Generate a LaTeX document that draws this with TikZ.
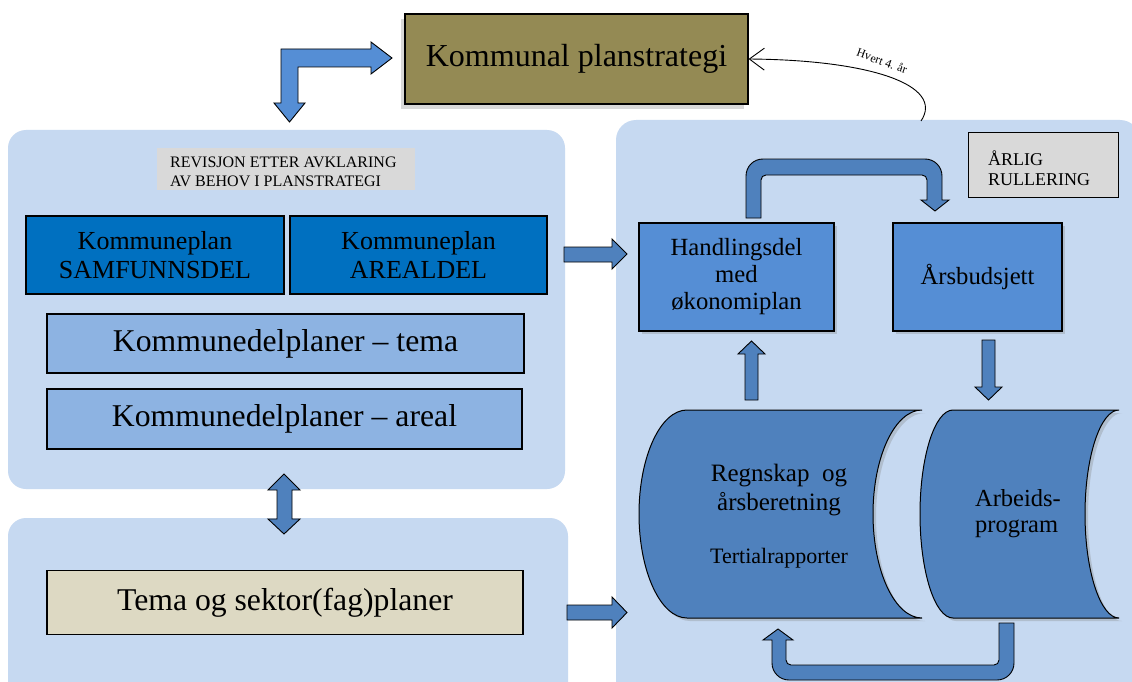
\documentclass[tikz,border=0pt]{standalone}
\usepackage{fontspec}
\setmainfont{Liberation Serif}
\usetikzlibrary{shadows,arrows.meta,calc}
\definecolor{panelblue}{HTML}{C6D9F1}
\definecolor{olivebox}{HTML}{948A54}
\definecolor{darkblue}{HTML}{0070C0}
\definecolor{midblue}{HTML}{8DB3E2}
\definecolor{beige}{HTML}{DDD9C3}
\definecolor{boxblue}{HTML}{558ED5}
\definecolor{cylblue}{HTML}{4F81BD}
\definecolor{lightgray}{HTML}{D9D9D9}
\tikzset{
  box/.style={draw=black, line width=1.2pt, inner sep=0pt, align=center},
  shade3/.style={drop shadow={shadow xshift=3pt, shadow yshift=-3pt, opacity=0.3}},
  blockarrow/.style={fill=cylblue, draw=black, line width=0.9pt, line join=miter}
}
\begin{document}
\begin{tikzpicture}[x=1pt,y=-1pt]
\useasboundingbox (0,0) rectangle (1132,682);
\fill[white] (0,0) rectangle (1132,682);

% background panels
\fill[panelblue, rounded corners=18pt] (8,130) rectangle (565,489);
\fill[panelblue, rounded corners=18pt] (8,518) rectangle (568,720);
\fill[panelblue, rounded corners=20pt] (616,120) rectangle (1140,720);

% top box
\node[box, fill=olivebox, minimum width=343pt, minimum height=90pt,
      font=\fontsize{32}{36}\selectfont,
      drop shadow={shadow xshift=-4pt, shadow yshift=-5pt, opacity=0.3}]
      (ks) at (576.5,59) {Kommunal planstrategi};

% L arrow
\path[blockarrow, fill=boxblue] (281,49) -- (371,49) -- (371,42) -- (392,58) -- (371,74) -- (371,67)
  -- (298,67) -- (298,103) -- (305,103) -- (289.5,122) -- (274,103) -- (281,103) -- cycle;

% curved arrow from right panel
\coordinate (rtop) at (921,121);
\draw[line width=0.9pt, -{Straight Barb[length=15pt,width=22pt]}]
  (rtop) .. controls (945,85) and (870,60) .. (ks.east);
\node[font=\fontsize{12}{14}\selectfont, rotate=-20, inner sep=0pt] (hvert) at (882,61) {Hvert 4. år};

% left upper panel content
\node[fill=lightgray, minimum width=258pt, minimum height=42pt, inner sep=0pt] (revbox) at (286,169) {};
\node[anchor=west, align=left, inner sep=0pt, font=\fontsize{16}{19}\selectfont] (rev) at (170,172)
  {REVISJON ETTER AVKLARING\\AV BEHOV I PLANSTRATEGI};

\node[box, fill=darkblue, minimum width=258pt, minimum height=78pt, font=\fontsize{26}{29}\selectfont]
  (samf) at (155,255) {Kommuneplan\\SAMFUNNSDEL};
\node[box, fill=darkblue, minimum width=257pt, minimum height=78pt, font=\fontsize{26}{29}\selectfont]
  (areal) at (418.5,255) {Kommuneplan\\AREALDEL};
\node[box, fill=midblue, minimum width=477pt, minimum height=59pt, font=\fontsize{31.7}{34}\selectfont]
  (ktema) at (285.5,343.5) {Kommunedelplaner -- tema};
\node[box, fill=midblue, minimum width=475pt, minimum height=60pt, font=\fontsize{31.7}{34}\selectfont]
  (kareal) at (284.5,419) {Kommunedelplaner -- areal};

% double arrow
\path[blockarrow] (284,474) -- (300,490) -- (292,490) -- (292,519) -- (300,519) -- (284,534)
  -- (268,519) -- (277,519) -- (277,490) -- (268,490) -- cycle;

% lower panel
\node[box, fill=beige, minimum width=476pt, minimum height=64pt, font=\fontsize{31.7}{34}\selectfont]
  (tema) at (285,602.5) {Tema og sektor(fag)planer};

% right arrows into right panel
\path[blockarrow] (564,247) -- (612,247) -- (612,239) -- (627,254) -- (612,269) -- (612,262) -- (564,262) -- cycle;
\path[blockarrow] (567,605) -- (612,605) -- (612,597) -- (627,612.5) -- (612,628) -- (612,620) -- (567,620) -- cycle;

% right panel content
\node[box, line width=1pt, fill=lightgray, minimum width=150pt, minimum height=64pt] (arlig) at (1043,165) {};
\node[anchor=west, align=left, inner sep=0pt, font=\fontsize{18}{20}\selectfont] (arligtxt) at (988,168)
  {ÅRLIG\\RULLERING};

\node[box, fill=boxblue, minimum width=195pt, minimum height=108pt, font=\fontsize{24.7}{27}\selectfont, shade3]
  (hand) at (736.5,277) {Handlingsdel\\med\\økonomiplan};
\node[box, fill=boxblue, minimum width=169pt, minimum height=108pt, font=\fontsize{24.7}{27}\selectfont, shade3]
  (budsj) at (977.5,277) {Årsbudsjett};

% U arrow top (Handlingsdel -> Arsbudsjett)
\path[blockarrow] (746,218) -- (746,176) .. controls (746,166.6) and (753.4,159) .. (763,159) -- (925,159)
  .. controls (934.4,159) and (942,166.6) .. (942,176) -- (942,200) -- (949,200) -- (935,211) -- (921,200)
  -- (927,200) -- (927,180) .. controls (927,177.2) and (924.8,175) .. (922,175) -- (766,175)
  .. controls (763.2,175) and (761,177.2) .. (761,180) -- (761,218) -- cycle;

% cylinders
\path[fill=cylblue, draw=black, line width=1pt, shade3]
  (687,410) -- (922,410) .. controls (895,410) and (873,456.6) .. (873,514)
  .. controls (873,571.4) and (895,618) .. (922,618) -- (687,618)
  .. controls (660.5,618) and (639,571.4) .. (639,514)
  .. controls (639,456.6) and (660.5,410) .. (687,410) -- cycle;
\path[fill=cylblue, draw=black, line width=1pt, shade3]
  (953,410) -- (1119,410) .. controls (1100.5,410) and (1085,456.6) .. (1085,514)
  .. controls (1085,571.4) and (1100.5,618) .. (1119,618) -- (953,618)
  .. controls (934.8,618) and (920,571.4) .. (920,514)
  .. controls (920,456.6) and (934.8,410) .. (953,410) -- cycle;

\node[align=center, font=\fontsize{25}{29}\selectfont] (regn) at (779,490) {Regnskap\ \ og\\årsberetning};
\node[font=\fontsize{22}{24}\selectfont] (tert) at (779,558) {Tertialrapporter};
\node[align=left, font=\fontsize{24.5}{26}\selectfont] (arb) at (1018,514) {Arbeids-\\program};

% up arrow (cylinder -> Handlingsdel)
\path[blockarrow] (745,400) -- (745,354) -- (738,354) -- (751.5,341) -- (765,354) -- (758,354) -- (758,400) -- cycle;
% down arrow (Arsbudsjett -> cylinder)
\path[blockarrow] (982,340) -- (995,340) -- (995,387) -- (1002,387) -- (988.5,400) -- (975,387) -- (982,387) -- cycle;

% bottom U arrow (Arbeidsprogram -> Regnskap)
\path[blockarrow] (999,623) -- (1014,623) -- (1014,663) .. controls (1014,672.4) and (1006.4,680) .. (997,680)
  -- (789,680) .. controls (779.6,680) and (772,672.4) .. (772,663) -- (772,640) -- (763,640) -- (778,629)
  -- (793,640) -- (786,640) -- (786,660) .. controls (786,662.8) and (788.2,665) .. (791,665) -- (994,665)
  .. controls (996.8,665) and (999,662.8) .. (999,660) -- cycle;
\end{tikzpicture}
\end{document}
